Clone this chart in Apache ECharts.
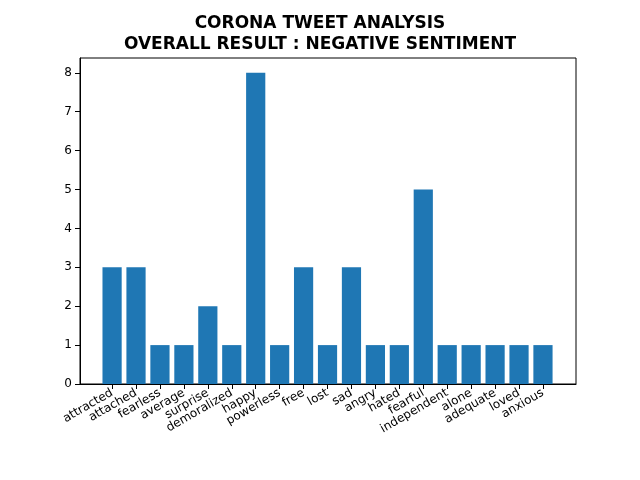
<!DOCTYPE html>
<html><head><meta charset="utf-8">
<script src="https://cdn.jsdelivr.net/npm/echarts@6/dist/echarts.min.js"></script>
<style>body{margin:0}#main{width:640px;height:480px}</style>
</head><body><div id="main"></div>
<script>
var categories = ['attracted','attached','fearless','average','surprise','demoralized','happy','powerless','free','lost','sad','angry','hated','fearful','independent','alone','adequate','loved','anxious'];
var counts = [3,3,1,1,2,1,8,1,3,1,3,1,1,5,1,1,1,1,1];
var yTicks = [0,1,2,3,4,5,6,7,8];

var idx = categories.map(function (c, i) { return i; });
var myChart = echarts.init(document.getElementById('main'));
var option = {
    animation: false,
    title: {
        text: 'CORONA TWEET ANALYSIS\nOVERALL RESULT : NEGATIVE SENTIMENT',
        left: 'center', top: 8,
        textStyle: {fontFamily: 'DejaVu Sans', fontSize: 17, fontWeight: 'bold', color: '#000', lineHeight: 21}
    },
    grid: {left: 80, right: 64, top: 58, bottom: 96, show: true, borderColor: '#000', borderWidth: 1},
    xAxis: {
        type: 'value', min: -1.34, max: 19.38,
        splitLine: {show: false},
        axisLine: {show: true, onZero: false, lineStyle: {color: '#000'}},
        axisTick: {show: true, customValues: idx, lineStyle: {color: '#000'}},
        axisLabel: {customValues: idx, rotate: 30, color: '#000', fontFamily: 'DejaVu Sans', fontSize: 12,
            formatter: function (v) { return categories[Math.round(v)]; }}
    },
    yAxis: {
        type: 'value', min: 0, max: 8.38,
        splitLine: {show: false},
        axisLine: {show: true, onZero: false, lineStyle: {color: '#000'}},
        axisTick: {show: true, customValues: yTicks, lineStyle: {color: '#000'}},
        axisLabel: {customValues: yTicks, color: '#000', fontFamily: 'DejaVu Sans', fontSize: 12}
    },
    series: [{
        type: 'bar', barWidth: 19.2,
        itemStyle: {color: '#1f77b4'},
        data: counts.map(function (v, i) { return [i, v]; })
    }]
};
myChart.setOption(option);
</script></body></html>
